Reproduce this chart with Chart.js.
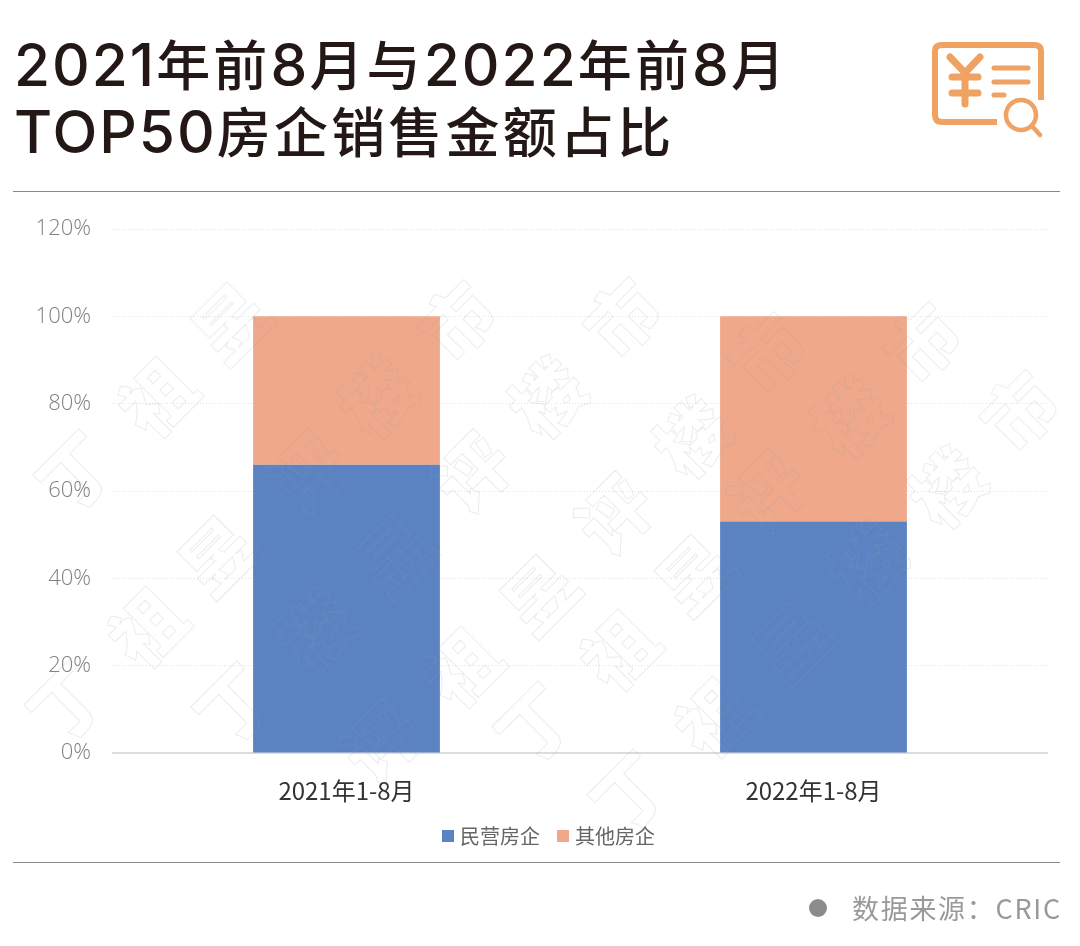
<!DOCTYPE html>
<html>
<head>
<meta charset="utf-8">
<title>TOP50房企销售金额占比</title>
<script src="https://cdn.jsdelivr.net/npm/chart.js"></script>
<style>
    html, body { margin: 0; padding: 0; background: #fff; }
    .page { position: relative; width: 1080px; height: 946px; overflow: hidden; font-family: "Noto Sans CJK SC", sans-serif; }
    #chart { position: absolute; left: 0; top: 0; }
    .title { position: absolute; left: 14px; height: 68px; font-size: 54px; line-height: 68px; font-weight: 500; color: #231815; letter-spacing: 3.2px; white-space: nowrap; }
    .title span { font-family: Inter, sans-serif; font-size: 58.5px; line-height: 60px; letter-spacing: 2px; }
    .rule { position: absolute; left: 13px; width: 1047px; height: 1px; background: #8a8a8a; }
    .icon { position: absolute; left: 928px; top: 38px; }
    .dot { position: absolute; left: 809px; top: 899px; width: 18px; height: 18px; border-radius: 50%; background: #8c8c8c; }
    .source { position: absolute; left: 852px; top: 888px; font-size: 27px; line-height: 40px; color: #999; letter-spacing: 1.7px; white-space: nowrap; }
    .mark { position: absolute; font-size: 72px; line-height: 72px; width: 72px; height: 72px; font-weight: 900; text-align: center; color: transparent; -webkit-text-stroke: 1px rgba(150,160,170,.2); transform: translate(-50%,-50%) rotate(-45deg); pointer-events: none; }
</style>
</head>
<body>
<div class="page">
    <div class="title" style="top:29px"><span>2021</span>年前<span>8</span>月与<span>2022</span>年前<span>8</span>月</div>
    <div class="title" style="top:96px"><span>TOP50</span>房企销售金额占比</div>
    <svg class="icon" width="120" height="100" viewBox="0 0 120 100" fill="none" stroke="#f0a263" stroke-linecap="round">
        <path d="M69 84H14Q7 84 7 77V13Q7 7 14 7H106Q113 7 113 13V62" stroke-width="6" stroke-linecap="butt"/>
        <path d="M22 19L37 35L52 19M37 35V66M24 39H50M24 55H50" stroke-width="7"/>
        <path d="M66 30H100M66 44H100M66 57H76" stroke-width="5"/>
        <circle cx="93" cy="77" r="15" stroke-width="4.5"/>
        <path d="M104 88L112 97" stroke-width="4.5"/>
    </svg>
    <div class="rule" style="top:191px"></div>
    <canvas id="chart" width="1080" height="946"></canvas>
    <div class="rule" style="top:862px"></div>
    <div class="dot"></div>
    <div class="source">数据来源：CRIC</div>
</div>
<script>
const categories = ['2021年1-8月', '2022年1-8月'];
const privateShare = [66, 53];
const otherShare = [34, 47];
const seriesNames = ['民营房企', '其他房企'];

// background watermark: char, x, y
const watermarks = [
    ['丁', 74, 470], ['丁', 65, 700], ['丁', 232, 702], ['丁', 533, 722], ['丁', 628, 790],
    ['祖', 155, 395], ['祖', 145, 625], ['祖', 460, 665], ['祖', 617, 648], ['祖', 712, 715],
    ['昱', 228, 320], ['昱', 215, 553], ['昱', 392, 553], ['昱', 537, 592], ['昱', 692, 572], ['昱', 790, 640],
    ['评', 305, 470], ['评', 470, 470], ['评', 612, 512], ['评', 765, 490], ['评', 378, 740],
    ['楼', 375, 395], ['楼', 545, 395], ['楼', 690, 435], ['楼', 848, 415], ['楼', 945, 485], ['楼', 313, 628], ['楼', 865, 560],
    ['市', 455, 318], ['市', 620, 315], ['市', 765, 350], ['市', 920, 340], ['市', 1017, 408]
];

const cjk = '"Noto Sans CJK SC", sans-serif';

// legend sits right of the canvas centre in the original
const legendShift = {
    id: 'legendShift',
    afterLayout(chart) {
        chart.legend.left += 27;
        chart.legend.right += 27;
    }
};

new Chart(document.getElementById('chart'), {
    type: 'bar',
    data: {
        labels: categories,
        datasets: [
            { label: seriesNames[0], data: privateShare, backgroundColor: '#5b83c2', borderWidth: 0 },
            { label: seriesNames[1], data: otherShare, backgroundColor: '#f0a88a', borderWidth: 0 }
        ]
    },
    plugins: [legendShift],
    options: {
        responsive: false,
        animation: false,
        layout: { padding: { top: 229, right: 33, bottom: 90, left: 0 } },
        datasets: { bar: { categoryPercentage: 1, barPercentage: 0.4 } },
        plugins: {
            tooltip: { enabled: false },
            legend: {
                position: 'bottom',
                labels: {
                    usePointStyle: true,
                    pointStyle: 'rect',
                    boxWidth: 4,
                    boxHeight: 12,
                    padding: 21,
                    color: '#666',
                    font: { family: cjk, size: 20 }
                }
            }
        },
        scales: {
            x: {
                stacked: true,
                afterFit(scale) { scale.height = 52; },
                grid: { display: false, drawTicks: false },
                border: { color: '#dcdcdc', width: 2 },
                ticks: { color: '#333', padding: 23, maxRotation: 0, font: { family: cjk, size: 24 } }
            },
            y: {
                stacked: true,
                min: 0,
                max: 120,
                afterFit(scale) { scale.width = 113; },
                grid: { color: '#e2e2e2', lineWidth: 1, drawTicks: false },
                border: { display: false, dash: [1, 2] },
                ticks: {
                    stepSize: 20,
                    padding: 22,
                    color: '#808080',
                    font: { family: '"Open Sans", sans-serif', size: 22, weight: 300 },
                    callback: v => v + '%'
                }
            }
        }
    }
});

const page = document.querySelector('.page');
watermarks.forEach(([ch, x, y]) => {
    const el = document.createElement('div');
    el.className = 'mark';
    el.textContent = ch;
    el.style.left = x + 'px';
    el.style.top = y + 'px';
    page.appendChild(el);
});
</script>
</body>
</html>
